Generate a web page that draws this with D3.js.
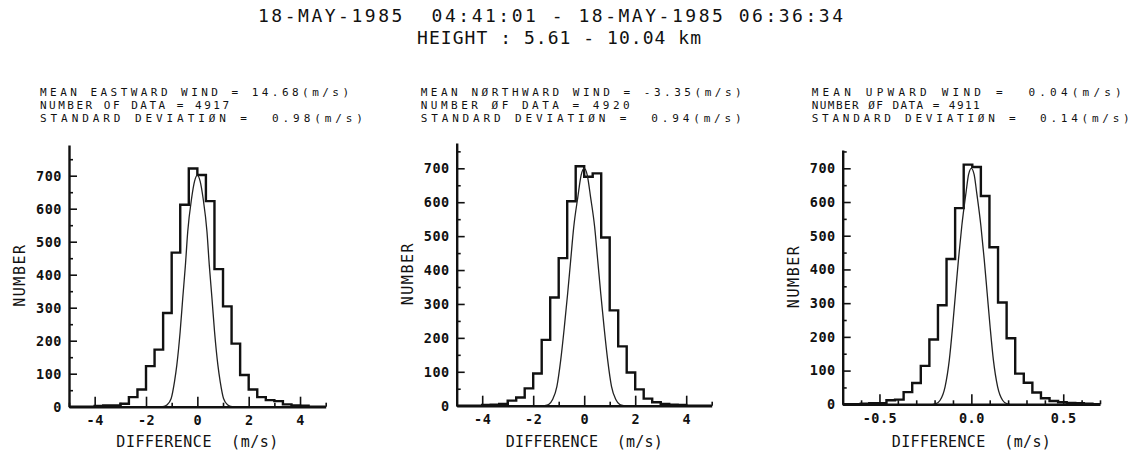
<!DOCTYPE html>
<html>
<head>
<meta charset="utf-8">
<script src="https://cdn.jsdelivr.net/npm/d3@7"></script>
<style>
  body { margin: 0; background: #fff; }
  svg { display: block; }
  text { font-family: "DejaVu Sans Mono", "Liberation Mono", monospace; fill: #111; white-space: pre; }
</style>
</head>
<body>
<svg id="chart" width="1131" height="450"></svg>
<script>
// ---- Run header ----
const titleLines = ["18-MAY-1985  04:41:01 - 18-MAY-1985 06:36:34", "HEIGHT : 5.61 - 10.04 km"];

// ---- Panel headers ----
const eastHeader  = ["MEAN EASTWARD WIND = 14.68(m/s)", "NUMBER OF DATA = 4917", "STANDARD DEVIATIØN =  0.98(m/s)"];
const northHeader = ["MEAN NØRTHWARD WIND = -3.35(m/s)", "NUMBER ØF DATA = 4920", "STANDARD DEVIATIØN =  0.94(m/s)"];
const upHeader    = ["MEAN UPWARD WIND =  0.04(m/s)", "NUMBER ØF DATA = 4911", "STANDARD DEVIATIØN =  0.14(m/s)"];

// ---- Histogram of differences (m/s): first bin edge, bin width, counts ----
const eastBinStart = -4.0;
const eastBinWidth = 1 / 3;
const eastCounts = [2, 4, 4, 9, 29, 52, 123, 173, 284, 467, 612, 722,
                    702, 623, 417, 304, 191, 96, 52, 29, 20, 17, 7, 4, 3];

const northBinStart = -4.0;
const northBinWidth = 1 / 3;
const northCounts = [2, 3, 5, 15, 24, 51, 95, 194, 319, 435, 603, 706,
                     675, 685, 496, 281, 175, 98, 48, 21, 10, 5, 3, 2];

const upBinStart = -0.602;
const upBinWidth = 0.0467;
const upCounts = [2, 3, 3, 12, 14, 36, 63, 114, 192, 294, 431, 582, 711,
                  704, 618, 466, 302, 196, 91, 64, 35, 18, 10, 6, 4, 3, 2];

// ---- Reference curves (difference, number) ----
const eastCurveX = [-1.45, -1.30, -1.19, -1.02, -0.89, -0.80, -0.67, -0.57, -0.465, -0.375, -0.225, -0.11, 0,
                    0.11, 0.225, 0.375, 0.465, 0.57, 0.67, 0.80, 0.89, 1.02, 1.19, 1.30, 1.45];
const eastCurveY = [0, 1, 5, 25, 76, 126, 227, 328, 429, 530, 631, 683, 702,
                    683, 631, 530, 429, 328, 227, 126, 76, 25, 5, 1, 0];

const northCurveX = [-1.55, -1.40, -1.24, -1.07, -0.92, -0.78, -0.65, -0.53, -0.41, -0.25, -0.12, 0,
                     0.12, 0.25, 0.41, 0.53, 0.65, 0.78, 0.92, 1.07, 1.24, 1.40, 1.55];
const northCurveY = [0, 3, 18, 57, 135, 231, 330, 429, 527, 615, 680, 700,
                     680, 615, 527, 429, 330, 231, 135, 57, 18, 3, 0];

const upCurveX = [-0.21, -0.195, -0.17, -0.143, -0.12, -0.102, -0.086, -0.070, -0.052, -0.029, -0.015, 0,
                  0.015, 0.029, 0.052, 0.070, 0.086, 0.102, 0.12, 0.143, 0.17, 0.195, 0.21];
const upCurveY = [0, 1, 12, 52, 131, 230, 330, 430, 529, 628, 682, 700,
                  682, 628, 529, 430, 330, 230, 131, 52, 12, 1, 0];

// ---- Axis ticks ----
const countTicks = [0, 100, 200, 300, 400, 500, 600, 700];
const countMinorTicks = [50, 150, 250, 350, 450, 550, 650, 750];
const wideDiffTicks = [-4, -2, 0, 2, 4];
const wideDiffLabels = ["-4", "-2", "0", "2", "4"];
const wideDiffMinor = [-5, -3, -1, 1, 3, 5];
const narrowDiffTicks = [-0.5, 0, 0.5];
const narrowDiffLabels = ["-0.5", "0.0", "0.5"];
const narrowDiffMinor = [-0.6, -0.4, -0.3, -0.2, -0.1, 0.1, 0.2, 0.3, 0.4, 0.6, 0.7];

const yTitle = "NUMBER";
const xTitle = "DIFFERENCE  (m/s)";

// ---- Panel layout ----
const panels = [
  { header: eastHeader, headerX: 40, headerLen: [309, 189, 323],
    start: eastBinStart, width: eastBinWidth, counts: eastCounts, cx: eastCurveX, cy: eastCurveY,
    left: 69, right: 325.7, base: 406.7, y700: 175.7, top: 145, xDom: [-5, 5],
    ticks: wideDiffTicks, labels: wideDiffLabels, minor: wideDiffMinor, xTitleLen: 162 },
  { header: northHeader, headerX: 420.7, headerLen: [321, 209, 321],
    start: northBinStart, width: northBinWidth, counts: northCounts, cx: northCurveX, cy: northCurveY,
    left: 456.7, right: 711.7, base: 405.7, y700: 168.3, top: 143, xDom: [-5, 5],
    ticks: wideDiffTicks, labels: wideDiffLabels, minor: wideDiffMinor, xTitleLen: 157 },
  { header: upHeader, headerX: 811.7, headerLen: [310, 168, 318],
    start: upBinStart, width: upBinWidth, counts: upCounts, cx: upCurveX, cy: upCurveY,
    left: 842.7, right: 1100, base: 404.3, y700: 168.3, top: 150, xDom: [-0.7, 0.7],
    ticks: narrowDiffTicks, labels: narrowDiffLabels, minor: narrowDiffMinor, xTitleLen: 159 }
];

const svg = d3.select("#chart");
svg.append("rect").attr("width", 1131).attr("height", 450).attr("fill", "#fff");

// Title block
const titleGeom = [{ x: 258, y: 22, len: 585 }, { x: 417, y: 44, len: 284 }];
titleLines.forEach((t, i) => {
  svg.append("text")
    .attr("x", titleGeom[i].x).attr("y", titleGeom[i].y)
    .attr("font-size", 18)
    .attr("textLength", titleGeom[i].len).attr("lengthAdjust", "spacing")
    .text(t);
});

const headerY = [96, 109, 122];

panels.forEach(p => {
  const g = svg.append("g");

  // header lines
  p.header.forEach((t, i) => {
    g.append("text")
      .attr("x", p.headerX).attr("y", headerY[i])
      .attr("font-size", 11)
      .attr("textLength", p.headerLen[i]).attr("lengthAdjust", "spacing")
      .text(t);
  });

  const x = d3.scaleLinear().domain(p.xDom).range([p.left, p.right]);
  const yTopVal = 700 * (p.base - p.top) / (p.base - p.y700);
  const y = d3.scaleLinear().domain([0, yTopVal]).range([p.base, p.top]);

  // histogram outline
  const pts = [[p.xDom[0], 0]];
  p.counts.forEach((c, k) => pts.push([p.start + k * p.width, c]));
  pts.push([p.start + p.counts.length * p.width, 0]);
  pts.push([p.xDom[1], 0]);
  const step = d3.line().x(d => x(d[0])).y(d => y(d[1])).curve(d3.curveStepAfter);
  g.append("path").datum(pts)
    .attr("d", step).attr("fill", "none").attr("stroke", "#111")
    .attr("stroke-width", 2.4).attr("stroke-linejoin", "miter");

  // reference curve
  const curvePts = p.cx.map((v, i) => [v, p.cy[i]]);
  const smooth = d3.line().x(d => x(d[0])).y(d => y(d[1])).curve(d3.curveMonotoneX);
  g.append("path").datum(curvePts)
    .attr("d", smooth).attr("fill", "none").attr("stroke", "#222")
    .attr("stroke-width", 1.3);

  // y axis
  const yAxis = g.append("g").attr("transform", `translate(${p.left},0)`)
    .call(d3.axisLeft(y).tickValues(countTicks).tickSize(-8).tickSizeOuter(0).tickPadding(7));
  const yMinor = g.append("g").attr("transform", `translate(${p.left},0)`)
    .call(d3.axisLeft(y).tickValues(countMinorTicks.filter(v => v < yTopVal)).tickSize(-4).tickFormat(""));
  yMinor.select(".domain").remove();

  // x axis
  const xAxis = g.append("g").attr("transform", `translate(0,${p.base})`)
    .call(d3.axisBottom(x).tickValues(p.ticks).tickSize(-10).tickSizeOuter(0).tickPadding(9)
      .tickFormat((d, i) => p.labels[i]));
  const xMinor = g.append("g").attr("transform", `translate(0,${p.base})`)
    .call(d3.axisBottom(x).tickValues(p.minor).tickSize(-4).tickFormat(""));
  xMinor.select(".domain").remove();

  [yAxis, xAxis].forEach(a => {
    a.select(".domain").attr("stroke", "#111").attr("stroke-width", 2.4);
    a.selectAll(".tick text")
      .attr("font-family", "'DejaVu Sans Mono', monospace")
      .attr("font-size", 13.5).attr("font-weight", "bold")
      .attr("letter-spacing", 0.5).attr("fill", "#111");
  });
  g.selectAll(".tick line").attr("stroke", "#111").attr("stroke-width", 1.6);

  // axis titles
  g.append("text")
    .attr("transform", `translate(${p.left - 44},${(p.base + p.top) / 2}) rotate(-90)`)
    .attr("text-anchor", "middle").attr("font-size", 15)
    .attr("textLength", 62).attr("lengthAdjust", "spacing")
    .text(yTitle);

  g.append("text")
    .attr("x", x(0)).attr("y", 447)
    .attr("text-anchor", "middle").attr("font-size", 15)
    .attr("textLength", p.xTitleLen).attr("lengthAdjust", "spacing")
    .text(xTitle);
});
</script>
</body>
</html>
